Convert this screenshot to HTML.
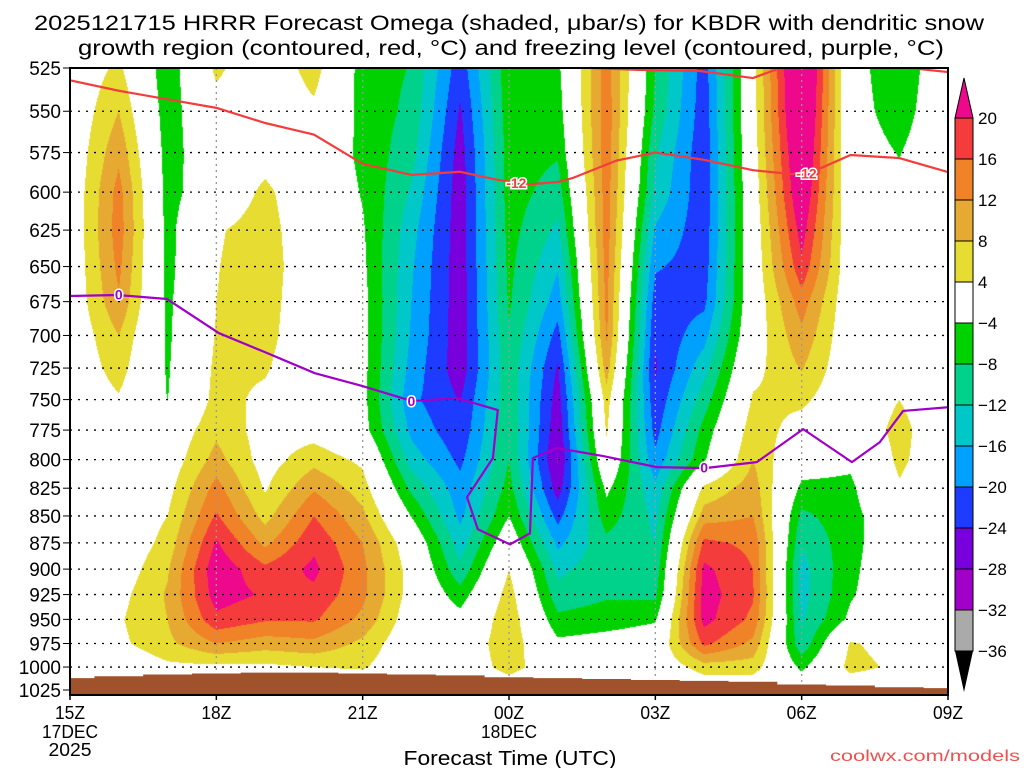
<!DOCTYPE html>
<html><head><meta charset="utf-8"><style>
html,body{margin:0;padding:0;background:#fff;width:1024px;height:768px;overflow:hidden}
#wrap{position:relative;width:1024px;height:768px}
#field{position:absolute;left:70px;top:68px}
#ov{position:absolute;left:0;top:0}
text{font-family:"Liberation Sans",sans-serif}
</style></head><body>
<div id="wrap">
<canvas id="field" width="878" height="627"></canvas>
<svg id="ov" width="1024" height="768">
<text x="509" y="30" font-size="21" text-anchor="middle" textLength="950" lengthAdjust="spacingAndGlyphs">2025121715 HRRR Forecast Omega (shaded, μbar/s) for KBDR with dendritic snow</text>
<text x="511" y="55" font-size="21" text-anchor="middle" textLength="866" lengthAdjust="spacingAndGlyphs">growth region (contoured, red, °C) and freezing level (contoured, purple, °C)</text>
<g id="grid"></g>
<g id="terrain"></g>
<g id="lines"></g>
<rect x="70" y="68" width="878" height="627" fill="none" stroke="#000" stroke-width="2"/>
<g id="axes"></g>
<g id="cbar"></g>
<text x="510" y="765" font-size="20" text-anchor="middle" textLength="213" lengthAdjust="spacingAndGlyphs">Forecast Time (UTC)</text>
<text x="1020" y="761" font-size="16" text-anchor="end" fill="#f05050" textLength="190" lengthAdjust="spacingAndGlyphs">coolwx.com/models</text>
</svg>
</div>
<script>
const hours=[0,1,2,3,4,5,6,7,8,9,10,11,12,13,14,15,16,17,18];
const levels=[525,550,575,600,625,650,675,700,725,750,775,800,825,850,875,900,925,950,975,1000,1025];
const omegaByHour=[
[0,0,0,0,0,0,0,0,0,0,0,0,0,0,0,0,0,0,0,0,0],
[5,8,11,13.5,14,13,11.5,8,6,3.5,0,0,0,0,0,1,2.5,3.5,3,0,0],
[-7,-6.5,-6,-5.8,-5.5,-5.5,-5,-4.8,-4.5,-4.1,0,1,2.5,4,5.5,7.5,8.5,8,7,3,0],
[5,2,0,0,3.5,3.8,4,4.3,5,5.5,7,9.5,13.5,16.5,20.5,23,22,19,12,3,0],
[0,0,2,5,6,6.5,6,5.5,4.5,3,2,2,3.5,6.5,11,17,19.5,16.5,10,3,0],
[6,3,0,0,0,0,0,0,0,0,2,6.5,11.5,16,19,21,19,16.5,11,4,0],
[-6,-5.5,-5,-4.3,-3.5,-3,-2.5,-2.5,-2.5,-2.5,-2,3,6,9,12,13,13,11,7,4.5,0],
[-8.2,-9,-10.5,-12.5,-14.5,-15.5,-16,-16.5,-17.5,-19,-17,-14,-9,-4.2,0.5,2,2,1,0,0,0],
[-22.5,-24.5,-26,-26.5,-26.5,-26.5,-26.5,-26.5,-26.5,-24.2,-23,-21,-18.5,-17,-14,-11,-6.3,-2.2,0,0,0],
[-5,-5.5,-6,-6,-6.5,-7,-7.5,-8.3,-9,-9,-8.5,-8,-6.5,-4,0,4,6,7,7,6,0],
[-5,-6,-7.5,-10,-12.8,-15.7,-18,-21.5,-24.5,-26,-27,-28.5,-26,-21.5,-17,-13,-10.5,-7,-3,0,0],
[14,14.5,14.5,14,14,13.5,13,12.5,10,6,4.5,2,-3,-6,-9,-9.5,-8.5,-6,-2,0,0],
[-8,-9,-11.5,-13,-16.5,-19.5,-22,-23.5,-24.5,-23,-21.5,-19,-15,-13,-12,-10.5,-9,-4.5,-1,0,0],
[-22,-22.5,-23,-23,-22.5,-22,-21,-17.5,-13.5,-10,-6.5,-4.5,5,10,17,21,22,21.5,17,6,0],
[2,2,1.5,1,0.5,0.5,0.5,1,2.5,4.5,6.3,8,10,12,15,16,16.5,15,11,6,0],
[30,29,27,25,22,19,14,11,8.3,5,2,-1.5,-5,-9,-11.5,-13.5,-13.5,-12.5,-11,-5,0],
[-2,-2,-1.5,-1,-0.5,0,0,0,0,0,0,-3,-5,-5.5,-5.5,-5,-4.5,-3,4.5,5.5,0],
[-7,-6,-4.2,-3,0,0,0,0,0,4,5.5,5,3.5,0,0,0,0,0,2,3,0],
[0,0,0,0,0,0,0,0,0,0,0,0,0,0,0,0,0,0,0,0,0]
];
const surfaceP=[1012,1010,1008,1007,1006,1006,1007,1008,1009,1011,1012,1013,1014,1015,1016,1019,1020,1022,1023];
const dgzHours=[0,1,2,3,4,5,6,7,8,8.75,9.4,10,10.3,11.2,12,13,14,14.8,15.4,16,17,18];
const dgzP=[532,538,543,548,557,564,582,589,587,592,595,593.5,591,580,575,579.5,586,588.5,584.6,576.5,578.4,587.2];
const dgzTopHours=[10.66,11.69,12.92,14.0,14.56];
const dgzTopP=[525,526.1,526.7,530.7,525];
const dgzTop2Hours=[17.22,18];
const dgzTop2P=[525,527.3];
const frzHours=[0,0.98,1.99,3.05,3.99,5.02,5.99,7.01,7.93,8.77,8.67,8.14,8.36,9.02,9.43,9.49,9.98,10.93,12.03,13.02,14.08,15.03,16.03,16.6,17.08,18];
const frzP=[670.9,670.2,673.1,698.2,712.6,729,739.1,751.2,748.8,758.5,798.7,833,862.2,876.4,866,798.7,790.1,797,806.5,807.4,802.2,774.2,802.2,785.2,759.2,756.2];
const dgzLabelHours=[9.15,15.1];
const dgzLabelP=[594,588];
const frzLabelHours=[1,7,13];
const frzLabelP=[670,751,807];
const cbarBounds=[20,16,12,8,4,-4,-8,-12,-16,-20,-24,-28,-32,-36];
const cbarColors=['#f53c3c','#f08228','#e6aa32','#e6dc32','#ffffff','#00d200','#00d28c','#00c8c8','#00a0ff','#1e3cff','#7800dc','#a000c8','#aaaaaa'];
const tickHours=[0,3,6,9,12,15,18];
const tickLabels=['15Z','18Z','21Z','00Z','03Z','06Z','09Z'];

const X0=70,X1=948,Y0=68,Y1=695,LN=Math.log(1025/525);
function xOf(h){return X0+h*(X1-X0)/18;}
function yOf(p){return Y0+622*Math.log(p/525)/LN;}
function colorOf(v){
  if(v>=20)return [238,8,140];
  const th=[16,12,8,4,-4,-8,-12,-16,-20,-24,-28,-32,-36];
  for(let i=0;i<th.length;i++){ if(v>=th[i]||(i===4&&v>-4)) { return hex(cbarColors[i]); } }
  return [0,0,0];
}
function hex(s){return [parseInt(s.substr(1,2),16),parseInt(s.substr(3,2),16),parseInt(s.substr(5,2),16)];}
// shading
const cv=document.getElementById('field');const ctx=cv.getContext('2d');
const W=cv.width,H=cv.height;const img=ctx.createImageData(W,H);
const lnL=levels.map(p=>Math.log(p));
for(let py=0;py<H;py++){
  const y=Y0+py+0.5;
  let lp=Math.log(525)+(y-Y0)/622*LN;
  let r;
  if(lp<=lnL[0])r=0;else if(lp>=lnL[20])r=20;else{
    let i=0;while(lnL[i+1]<lp)i++;
    r=i+(lp-lnL[i])/(lnL[i+1]-lnL[i]);
  }
  const ri=Math.min(Math.floor(r),19),rt=r-ri;
  for(let px=0;px<W;px++){
    const h=(px+0.5)*18/W;
    const hi=Math.min(Math.floor(h),17),ht=h-hi;
    const a=omegaByHour[hi][ri],b=omegaByHour[hi+1][ri],c=omegaByHour[hi][ri+1],d=omegaByHour[hi+1][ri+1];
    const v=(a*(1-ht)+b*ht)*(1-rt)+(c*(1-ht)+d*ht)*rt;
    const col=colorOf(v);const k=(py*W+px)*4;
    img.data[k]=col[0];img.data[k+1]=col[1];img.data[k+2]=col[2];img.data[k+3]=255;
  }
}
ctx.putImageData(img,0,0);

const NS='http://www.w3.org/2000/svg';
function mk(tag,attrs,parent){const e=document.createElementNS(NS,tag);for(const k in attrs)e.setAttribute(k,attrs[k]);parent.appendChild(e);return e;}
const grid=document.getElementById('grid');
levels.forEach(p=>{
  if(p===525)return;
  const l=mk('line',{x1:X0,x2:X1,y1:yOf(p),y2:yOf(p),stroke:'#000','stroke-width':1.3,'stroke-dasharray':'2 6'},grid);
  
  
});
tickHours.forEach(h=>{
  if(h===0||h===18)return;
  const l=mk('line',{x1:xOf(h),x2:xOf(h),y1:Y0,y2:Y1,stroke:'#999','stroke-width':1.3,'stroke-dasharray':'2 4'},grid);
  
  
});
// terrain
const ter=document.getElementById('terrain');
let d='M'+X0+' '+Y1;
surfaceP.forEach((p,i)=>{const xa=xOf(Math.max(0,hours[i]-0.5)),xb=xOf(Math.min(18,hours[i]+0.5));d+=' L'+xa+' '+yOf(p)+' L'+xb+' '+yOf(p);});
d+=' L'+X1+' '+Y1+' Z';
const tp=mk('path',{d:d,fill:'#a0522d'},ter);


// lines
const lines=document.getElementById('lines');
function poly(hs,ps,color,name){
  const pts=hs.map((h,i)=>xOf(h)+','+yOf(ps[i])).join(' ');
  const e=mk('polyline',{points:pts,fill:'none',stroke:color,'stroke-width':2.2,'stroke-linejoin':'round'},lines);
  
  
}
poly(dgzHours,dgzP,'#f53c3c','dgz-contour-minus12');
poly(dgzTopHours,dgzTopP,'#f53c3c','dgz-contour-top');
poly(dgzTop2Hours,dgzTop2P,'#f53c3c','dgz-contour-top-right');
poly(frzHours,frzP,'#a000c8','freezing-level-contour');
dgzLabelHours.forEach((h,i)=>{
  const t=mk('text',{x:xOf(h),y:yOf(dgzLabelP[i])+5,'font-size':14,'font-weight':'bold',fill:'#f53c3c','text-anchor':'middle',stroke:'#fff','stroke-width':3,'paint-order':'stroke'},lines);
  t.textContent='-12';
  
  
});
frzLabelHours.forEach((h,i)=>{
  const t=mk('text',{x:xOf(h),y:yOf(frzLabelP[i])+5,'font-size':14,'font-weight':'bold',fill:'#a000c8','text-anchor':'middle',stroke:'#fff','stroke-width':3,'paint-order':'stroke'},lines);
  t.textContent='0';
  
  
});
// axes
const ax=document.getElementById('axes');
levels.forEach(p=>{
  const t=mk('text',{x:61,y:yOf(p)+7,'font-size':19,'text-anchor':'end'},ax);
  t.textContent=String(p);
  
  
  const tk=mk('line',{x1:63,x2:X0,y1:yOf(p),y2:yOf(p),stroke:'#000','stroke-width':1},ax);
  
  
});
tickHours.forEach((h,i)=>{
  const t=mk('text',{x:xOf(h),y:719,'font-size':18,'text-anchor':'middle',textLength:30,lengthAdjust:'spacingAndGlyphs'},ax);
  t.textContent=tickLabels[i];
  
  
  const tk=mk('line',{x1:xOf(h),x2:xOf(h),y1:Y1,y2:Y1+5,stroke:'#000','stroke-width':1.5},ax);
  
  
});
[['17DEC',0,738,56],['2025',0,756,43],['18DEC',9,738,56]].forEach(a=>{
  const t=mk('text',{x:xOf(a[1]),y:a[2],'font-size':18,'text-anchor':'middle',textLength:a[3],lengthAdjust:'spacingAndGlyphs'},ax);
  t.textContent=a[0];
  
  
});
// colorbar
const cb=document.getElementById('cbar');
const CBX=955,CBW=18;
function cbY(i){return 118+i*41;}
const tri=mk('path',{d:`M${CBX} ${cbY(0)} L${CBX+CBW/2} 78 L${CBX+CBW} ${cbY(0)} Z`,fill:'#ee088c',stroke:'#000','stroke-width':1},cb);


cbarColors.forEach((c,i)=>{
  const r=mk('rect',{x:CBX,y:cbY(i),width:CBW,height:41,fill:c,stroke:'#000','stroke-width':1},cb);
  
  
});
const tri2=mk('path',{d:`M${CBX} ${cbY(13)} L${CBX+CBW/2} 692 L${CBX+CBW} ${cbY(13)} Z`,fill:'#000'},cb);


cbarBounds.forEach((v,i)=>{
  const t=mk('text',{x:978,y:cbY(i)+6,'font-size':17},cb);
  t.textContent=v<0?'\u2212'+Math.abs(v):String(v);
  
  
});
</script>
</body></html>
